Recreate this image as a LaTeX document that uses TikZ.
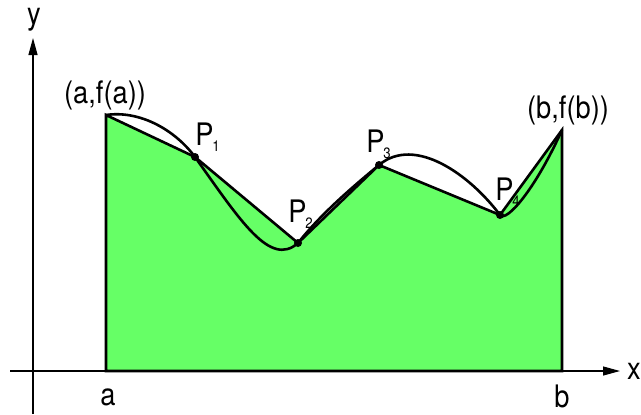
\documentclass[tikz,border=0pt]{standalone}
\usepackage{fontspec}
\setmainfont{TeX Gyre Heros}[FakeStretch=0.88]
\usetikzlibrary{arrows.meta}
\definecolor{areagreen}{RGB}{102,255,102}
\newcommand{\Pidx}[1]{P\kern-0.6pt\raisebox{-3.2pt}{\fontsize{7.5}{8}\selectfont #1}}

\begin{document}
\begin{tikzpicture}[x=0.5pt, y=-0.5pt,
  axis/.style={line width=0.6pt, -{Triangle[length=8.5pt, width=4.5pt]}},
  area/.style={fill=areagreen, draw=black, line width=1.3pt},
  curve/.style={line width=1.3pt},
  dot/.style={circle, fill=black, inner sep=0pt, minimum size=4pt},
  lbl/.style={font=\fontsize{15.5}{18}\selectfont, inner sep=0pt}
]
  \useasboundingbox (0,0) rectangle (641,414);

  % points of the broken line
  \coordinate (a0) at (106,371);
  \coordinate (b0) at (562,371);
  \coordinate (fa) at (106,115);
  \coordinate (p1) at (195,157);
  \coordinate (p2) at (298,243);
  \coordinate (p3) at (379,165);
  \coordinate (p4) at (500,215);
  \coordinate (fb) at (562,130);

  % axes
  \coordinate (xstart) at (10,371);
  \coordinate (xend) at (620,371);
  \coordinate (ystart) at (33,414);
  \coordinate (yend) at (33,38);
  \draw[axis] (xstart) -- (xend);
  \draw[axis] (ystart) -- (yend);
  \node[lbl] (xlbl) at (634,371) {x};
  \node[lbl] (ylbl) at (34,20) {y};

  % area under the broken line
  \draw[area] (a0) -- (fa) -- (p1) -- (p2) -- (p3) -- (p4) -- (fb) -- (b0) -- cycle;

  % the function
  \draw[curve] (fa) .. controls (140,110) and (175,130) .. (p1)
    .. controls (240,220) and (270,268) .. (p2)
    .. controls (320,215) and (350,189) .. (p3)
    .. controls (415,135) and (470,175) .. (p4)
    .. controls (506,223) and (535,190) .. (fb);

  \node[dot] (d1) at (p1) {};
  \node[dot] (d2) at (p2) {};
  \node[dot] (d3) at (p3) {};
  \node[dot] (d4) at (p4) {};

  % labels
  \node[lbl] (falbl) at (105,95) {(a,f(a))};
  \node[lbl] (fblbl) at (568,110) {(b,f(b))};
  \node[lbl, anchor=base west] (p1lbl) at (195,145) {\Pidx{1}};
  \node[lbl, anchor=base west] (p2lbl) at (288,222) {\Pidx{2}};
  \node[lbl, anchor=base west] (p3lbl) at (366,152) {\Pidx{3}};
  \node[lbl, anchor=base west] (p4lbl) at (495,200) {\Pidx{4}};
  \node[lbl] (albl) at (108,397) {a};
  \node[lbl] (blbl) at (562,396) {b};
\end{tikzpicture}
\end{document}
